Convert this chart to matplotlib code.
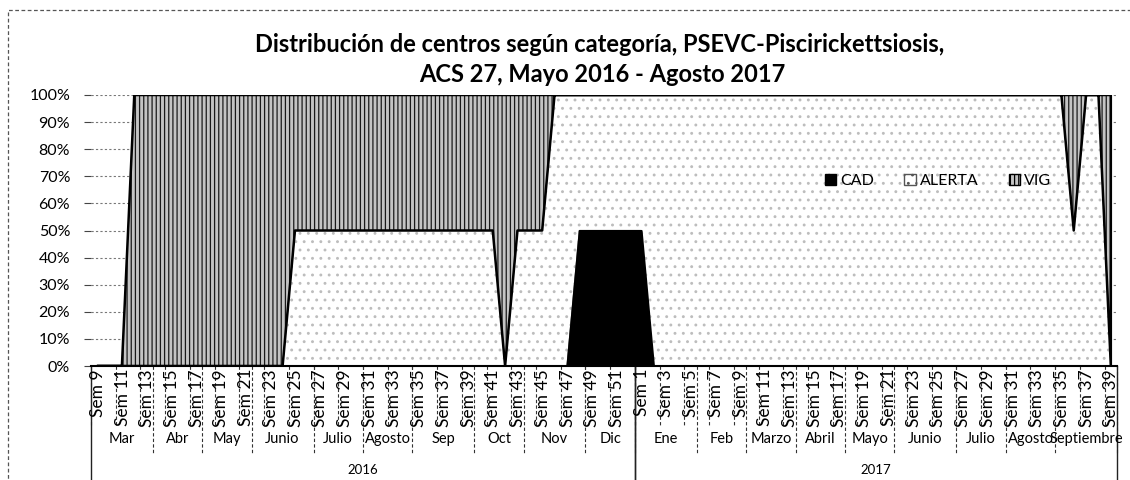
import matplotlib
matplotlib.use("Agg")
import matplotlib.pyplot as plt
import numpy as np
from matplotlib.patches import Patch, Rectangle

plt.rcParams['font.family'] = ['Lato', 'DejaVu Sans']
plt.rcParams['hatch.linewidth'] = 0.9

# ---------------- data ----------------
weeks_2016 = [9, 10, 11, 12, 13, 14, 15, 16, 17, 18, 19, 20, 21, 22, 23, 24, 25, 26, 27, 28,
              29, 30, 31, 32, 33, 34, 35, 36, 37, 38, 39, 40, 41, 42, 43, 44, 45, 46, 47, 48,
              49, 50, 51, 52]
weeks_2017 = [1, 2, 3, 4, 5, 6, 7, 8, 9, 10, 11, 12, 13, 14, 15, 16, 17, 18, 19, 20,
              21, 22, 23, 24, 25, 26, 27, 28, 29, 30, 31, 32, 33, 34, 35, 36, 37, 38, 39]

months_2016 = ["Mar", "Abr", "May", "Junio", "Julio", "Agosto", "Sep", "Oct", "Nov", "Dic"]
month_weeks_2016 = [5, 4, 4, 5, 4, 4, 5, 4, 5, 4]
months_2017 = ["Ene", "Feb", "Marzo", "Abril", "Mayo", "Junio", "Julio", "Agosto", "Septiembre"]
month_weeks_2017 = [5, 4, 4, 4, 4, 5, 4, 4, 5]
years = ["2016", "2017"]

series_names = ["CAD", "ALERTA", "VIG"]

cad_2016 = [0, 0, 0, 0, 0, 0, 0, 0, 0, 0,
            0, 0, 0, 0, 0, 0, 0, 0, 0, 0,
            0, 0, 0, 0, 0, 0, 0, 0, 0, 0,
            0, 0, 0, 0, 0, 0, 0, 0, 0, 50,
            50, 50, 50, 50]
cad_2017 = [50, 0, 0, 0, 0, 0, 0, 0, 0, 0,
            0, 0, 0, 0, 0, 0, 0, 0, 0, 0,
            0, 0, 0, 0, 0, 0, 0, 0, 0, 0,
            0, 0, 0, 0, 0, 0, 0, 0, 0]

alerta_2016 = [0, 0, 0, 0, 0, 0, 0, 0, 0, 0,
               0, 0, 0, 0, 0, 0, 50, 50, 50, 50,
               50, 50, 50, 50, 50, 50, 50, 50, 50, 50,
               50, 50, 50, 0, 50, 50, 50, 100, 100, 50,
               50, 50, 50, 50]
alerta_2017 = [50, 100, 100, 100, 100, 100, 100, 100, 100, 100,
               100, 100, 100, 100, 100, 100, 100, 100, 100, 100,
               100, 100, 100, 100, 100, 100, 100, 100, 100, 100,
               100, 100, 100, 100, 100, 50, 100, 100, 0]

vig_2016 = [0, 0, 0, 100, 100, 100, 100, 100, 100, 100,
            100, 100, 100, 100, 100, 100, 50, 50, 50, 50,
            50, 50, 50, 50, 50, 50, 50, 50, 50, 50,
            50, 50, 50, 100, 50, 50, 50, 0, 0, 0,
            0, 0, 0, 0]
vig_2017 = [0, 0, 0, 0, 0, 0, 0, 0, 0, 0,
            0, 0, 0, 0, 0, 0, 0, 0, 0, 0,
            0, 0, 0, 0, 0, 0, 0, 0, 0, 0,
            0, 0, 0, 0, 0, 50, 0, 0, 100]

# ---------------- figure ----------------
W, H = 1130, 480
fig = plt.figure(figsize=(W / 100, H / 100), dpi=100)
L, R, T, B = 91, 1117, 95, 366
ax = fig.add_axes([L / W, 1 - B / H, (R - L) / W, (B - T) / H])

cad = np.array(cad_2016 + cad_2017, dtype=float)
alerta = np.array(alerta_2016 + alerta_2017, dtype=float)
vig = np.array(vig_2016 + vig_2017, dtype=float)
n = len(cad)
x = np.arange(n)
tot = cad + alerta + vig
safe = np.where(tot > 0, tot, 1)
cad_p = np.where(tot > 0, cad / safe * 100, 0)
ale_p = np.where(tot > 0, alerta / safe * 100, 0)
vig_p = np.where(tot > 0, vig / safe * 100, 0)
c1 = cad_p
c2 = c1 + ale_p
c3 = c2 + vig_p

# gridlines
for v in range(10, 101, 10):
    ax.axhline(v, color='#777777', lw=0.8, ls=(0, (2, 2)), zorder=0)

# ALERTA
ax.fill_between(x, c1, c2, facecolor='white', hatch='..', edgecolor='#bdbdbd', lw=0, zorder=1)
ax.fill_between(x, c1, c2, facecolor='none', edgecolor='#555555', lw=0.8, zorder=2)
# VIG
ax.fill_between(x, c2, c3, facecolor='#c4c4c4', hatch='||||', edgecolor='#1a1a1a', lw=0, zorder=1)
ax.fill_between(x, c2, c3, facecolor='none', edgecolor='black', lw=1.8, zorder=3)
# CAD
ax.fill_between(x, 0, c1, facecolor='black', edgecolor='black', lw=1.5, zorder=3)

ax.set_xlim(-0.5, n - 0.5)
ax.set_ylim(0, 100)
ax.set_yticks(range(0, 101, 10))
ax.set_yticklabels([f"{v}%" for v in range(0, 101, 10)], fontsize=11.5)
ax.tick_params(axis='y', length=5, width=0.8, pad=10, color='#444444')
ax.set_xticks([])
for s in ['top', 'right', 'left']:
    ax.spines[s].set_visible(False)
ax.spines['bottom'].set_linewidth(1.5)
ax.spines['bottom'].set_zorder(4)

# ---------------- multi-level category axis ----------------
tr = ax.get_xaxis_transform()
ax_h = B - T
def fy(py):
    return (B - py) / ax_h

week_labels = [f"Sem {w}" for w in weeks_2016 + weeks_2017]
for i in range(0, n, 2):
    ax.text(i + 0.05, fy(369), week_labels[i], rotation=90, ha='center', va='top',
            fontsize=12.5, transform=tr, clip_on=False)
    ax.plot([i - 0.5, i - 0.5], [0, fy(426)], transform=tr, clip_on=False,
            color='#333333', lw=0.8, ls=(0, (3, 2)))

start = 0
for names, counts in [(months_2016, month_weeks_2016), (months_2017, month_weeks_2017)]:
    for name, c in zip(names, counts):
        ax.text(start + c / 2 - 0.5, fy(439), name, ha='center', va='center',
                fontsize=10.5, transform=tr, clip_on=False)
        start += c
        ax.plot([start - 0.5, start - 0.5], [0, fy(454)], transform=tr, clip_on=False,
                color='#333333', lw=0.8, ls=(0, (3, 2)))

year_bounds = [(0, len(weeks_2016)), (len(weeks_2016), n)]
for yname, (a, b) in zip(years, year_bounds):
    ax.text((a + b) / 2 - 0.5, fy(470), yname, ha='center', va='center',
            fontsize=9.5, transform=tr, clip_on=False)
    for xb in (a - 0.5, b - 0.5):
        ax.plot([xb, xb], [0, fy(482)], transform=tr, clip_on=False,
                color='#222222', lw=1.0)

# ---------------- title ----------------
fig.text(0.531, 1 - 45 / H, "Distribución de centros según categoría, PSEVC-Piscirickettsiosis,",
         ha='center', va='center', fontsize=17, fontweight='bold')
fig.text(0.533, 1 - 75 / H, "ACS 27, Mayo 2016 - Agosto 2017",
         ha='center', va='center', fontsize=17, fontweight='bold')

# ---------------- legend ----------------
handles = [
    Patch(facecolor='black', edgecolor='black', label=series_names[0]),
    Patch(facecolor='white', edgecolor='#555555', hatch='..', label=series_names[1]),
    Patch(facecolor='#c4c4c4', edgecolor='black', hatch='||||', label=series_names[2]),
]
fig.legend(handles=handles, loc='center', bbox_to_anchor=(938 / W, 1 - 181 / H), ncol=3,
           frameon=False, fontsize=11.5, handlelength=0.7, handleheight=0.7,
           handletextpad=0.25, columnspacing=1.9)

# chart border
fig.add_artist(Rectangle((8 / W, -0.1), 1.2, 1.1 - 10 / H, transform=fig.transFigure,
                         fill=False, edgecolor='#555555', lw=0.9, ls=(0, (3, 2))))

fig.savefig("out.png", dpi=100)
